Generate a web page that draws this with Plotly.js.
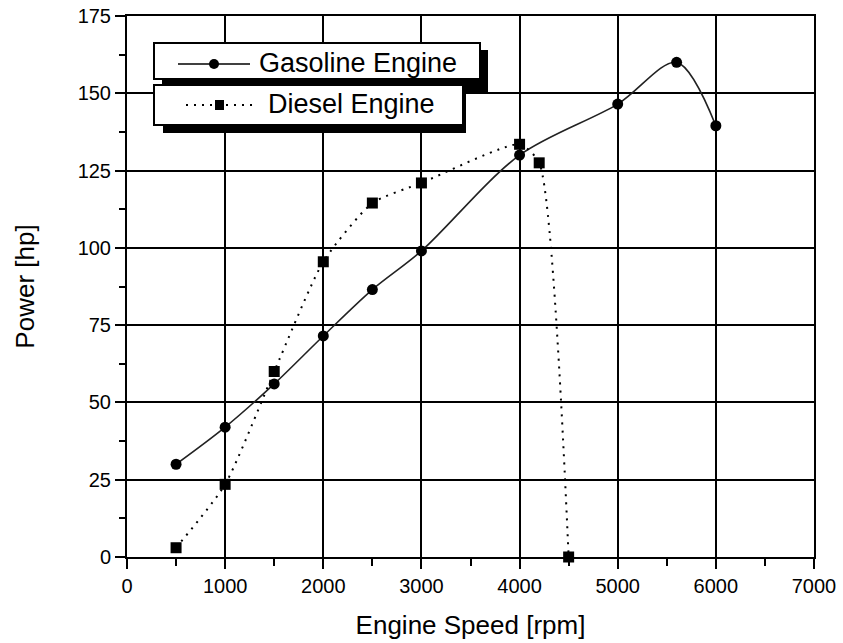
<!DOCTYPE html>
<html>
<head>
<meta charset="utf-8">
<script src="https://cdn.plot.ly/plotly-3.0.1.min.js"></script>
<style>
  html, body { margin: 0; padding: 0; background: #fff; }
  #chart { width: 843px; height: 643px; }
</style>
</head>
<body>
<div id="chart"></div>
<script>
// Engine speed (rpm) and power (hp) for each engine type
const gasolineRpm = [500, 1000, 1500, 2000, 2500, 3000, 4000, 5000, 5600, 6000];
const gasolineHp  = [30, 42, 56, 71.5, 86.5, 99, 130, 146.5, 160, 139.5];
const dieselRpm   = [500, 1000, 1500, 2000, 2500, 3000, 4000, 4200, 4500];
const dieselHp    = [3, 23.5, 60, 95.5, 114.5, 121, 133.5, 127.5, 0];

const seriesNames = ['Gasoline Engine', 'Diesel Engine'];
const xTicks = [0, 1000, 2000, 3000, 4000, 5000, 6000, 7000];
const yTicks = [0, 25, 50, 75, 100, 125, 150, 175];

const FONT = 'Liberation Sans, Arial, sans-serif';
const W = 843, H = 643;
const M = {l: 127, r: 29, t: 16, b: 86};
const PW = W - M.l - M.r, PH = H - M.t - M.b;
// pixel position -> paper coordinates
const px = x => (x - M.l) / PW;
const py = y => (H - M.b - y) / PH;

const gasoline = {
  x: gasolineRpm, y: gasolineHp, name: seriesNames[0], type: 'scatter', mode: 'lines+markers',
  line: {color: '#222', width: 1.6, shape: 'spline', smoothing: 0.9},
  marker: {symbol: 'circle', size: 11, color: '#000'},
  cliponaxis: false, showlegend: false
};
const diesel = {
  x: dieselRpm, y: dieselHp, name: seriesNames[1], type: 'scatter', mode: 'lines+markers',
  line: {color: '#000', width: 2, dash: '2px,6px', shape: 'spline', smoothing: 0.6},
  marker: {symbol: 'square', size: 11, color: '#000'},
  cliponaxis: false, showlegend: false
};

// Legend: two framed boxes with drop shadows
function rect(x0, y0, x1, y1, fill, lineW) {
  return {type: 'rect', xref: 'paper', yref: 'paper', layer: 'above',
    x0: px(x0), x1: px(x1), y0: py(y1), y1: py(y0),
    fillcolor: fill, line: {color: '#000', width: lineW}};
}
const shapes = [
  rect(162, 50, 488, 93, '#000', 0),
  rect(154, 43, 480, 79, '#fff', 2),
  rect(163, 91, 466, 133, '#000', 0),
  rect(154, 85, 463, 125, '#fff', 2),
  // gasoline sample
  {type: 'line', xref: 'paper', yref: 'paper', layer: 'above',
   x0: px(178), x1: px(250), y0: py(64), y1: py(64), line: {color: '#000', width: 1.6}},
  {type: 'circle', xref: 'paper', yref: 'paper', layer: 'above',
   x0: px(209), x1: px(219), y0: py(69), y1: py(59), fillcolor: '#000', line: {color: '#000', width: 0}},
  // diesel sample
  {type: 'line', xref: 'paper', yref: 'paper', layer: 'above',
   x0: px(186), x1: px(256), y0: py(105), y1: py(105), line: {color: '#000', width: 2, dash: '2px,6px'}},
  {type: 'rect', xref: 'paper', yref: 'paper', layer: 'above',
   x0: px(215), x1: px(224), y0: py(110), y1: py(100), fillcolor: '#000', line: {color: '#000', width: 0}}
];
const annotations = [
  {text: seriesNames[0], xref: 'paper', yref: 'paper', x: px(257), y: py(63), xanchor: 'left', yanchor: 'middle',
   showarrow: false, font: {family: FONT, size: 27, color: '#000'}},
  {text: seriesNames[1], xref: 'paper', yref: 'paper', x: px(266), y: py(104), xanchor: 'left', yanchor: 'middle',
   showarrow: false, font: {family: FONT, size: 27, color: '#000'}}
];

const axisCommon = {
  showline: true, linecolor: '#000', linewidth: 2, mirror: true,
  showgrid: true, gridcolor: '#000', gridwidth: 2, zeroline: false,
  ticks: 'outside', ticklen: 10, tickwidth: 2, tickcolor: '#000',
  tickfont: {family: FONT, size: 20, color: '#000'},
  fixedrange: true
};

const layout = {
  width: W, height: H, margin: M,
  paper_bgcolor: '#fff', plot_bgcolor: '#fff',
  font: {family: FONT, color: '#000'},
  xaxis: Object.assign({}, axisCommon, {
    range: [0, 7000], tickmode: 'array', tickvals: xTicks, ticktext: xTicks.map(String),
    minor: {dtick: 500, ticks: 'outside', ticklen: 7, tickwidth: 2, tickcolor: '#000', showgrid: false},
    title: {text: 'Engine Speed [rpm]', font: {family: FONT, size: 26, color: '#000'}, standoff: 20}
  }),
  yaxis: Object.assign({}, axisCommon, {
    range: [0, 175], tickmode: 'array', tickvals: yTicks, ticktext: yTicks.map(String),
    minor: {dtick: 12.5, ticks: 'outside', ticklen: 6, tickwidth: 2, tickcolor: '#000', showgrid: false},
    title: {text: 'Power [hp]', font: {family: FONT, size: 26, color: '#000'}, standoff: 36}
  }),
  shapes: shapes,
  annotations: annotations,
  showlegend: false
};

Plotly.newPlot('chart', [gasoline, diesel], layout, {displayModeBar: false, staticPlot: true});
</script>
</body>
</html>
